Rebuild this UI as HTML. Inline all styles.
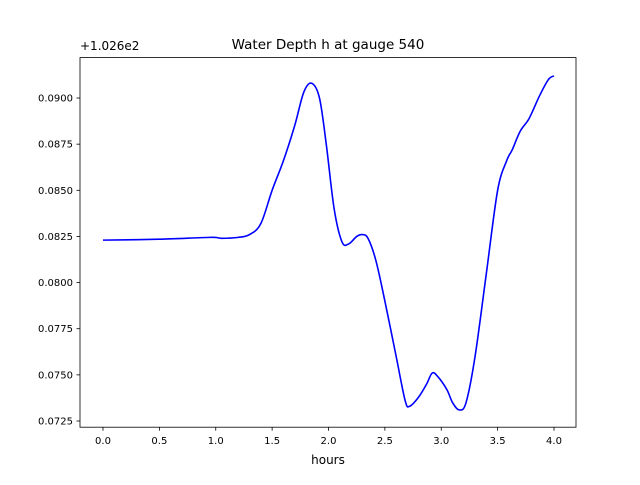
<!DOCTYPE html>
<html><head><meta charset="utf-8"><style>
body{margin:0;background:#fff}
svg{font-family:"DejaVu Sans","Liberation Sans",sans-serif}
</style></head><body>
<svg id="chart" width="640" height="480" viewBox="0 0 640 480">
<rect width="640" height="480" fill="#fff"/>
<text x="328" y="49" text-anchor="middle" font-size="13.5">Water Depth h at gauge 540</text>
<text x="80" y="50" font-size="12">+1.026e2</text>
<g id="xticks"></g>
<g id="yticks"></g>
<path id="line" fill="none" stroke="#0000ff" stroke-width="1.6"/>
<rect x="80" y="57.6" width="496" height="369.6" fill="none" stroke="#000" stroke-width="0.8"/>
<text x="328" y="464" text-anchor="middle" font-size="12">hours</text>
</svg>
<script>
const hours=[0,0.5,0.95,1.05,1.2,1.3,1.4,1.5,1.6,1.7,1.78,1.85,1.92,1.98,2.05,2.12,2.18,2.25,2.3,2.35,2.42,2.5,2.6,2.68,2.72,2.8,2.87,2.92,2.97,3.05,3.1,3.16,3.22,3.3,3.4,3.5,3.58,3.63,3.7,3.78,3.87,3.95,4.0];
const depth=[0.0823,0.08235,0.08245,0.0824,0.08245,0.0826,0.0832,0.0850,0.0866,0.0885,0.0903,0.0908,0.0900,0.0875,0.0840,0.0822,0.0821,0.0825,0.0826,0.0824,0.0812,0.0790,0.0760,0.0736,0.0733,0.0738,0.0745,0.0751,0.0749,0.0742,0.0735,0.0731,0.0735,0.0760,0.0805,0.0850,0.0866,0.0872,0.0882,0.0889,0.0901,0.0910,0.0912];
const xTicks=[0,0.5,1,1.5,2,2.5,3,3.5,4];
const xTickLabels=["0.0","0.5","1.0","1.5","2.0","2.5","3.0","3.5","4.0"];
const yTicks=[0.0725,0.075,0.0775,0.08,0.0825,0.085,0.0875,0.09];
const yTickLabels=["0.0725","0.0750","0.0775","0.0800","0.0825","0.0850","0.0875","0.0900"];
const NS="http://www.w3.org/2000/svg";
function xs(v){return 103+v*112.75;}
function ys(v){return 421-(v-0.0725)/0.0025*46.14;}
function mk(t,a,p){const e=document.createElementNS(NS,t);for(const k in a)e.setAttribute(k,a[k]);p.appendChild(e);return e;}
const gx=document.getElementById('xticks'),gy=document.getElementById('yticks');
xTicks.forEach((v,i)=>{
 const l=mk('line',{x1:xs(v),x2:xs(v),y1:427.2,y2:430.7,stroke:'#000','stroke-width':0.8},gx);
 
 
 const t=mk('text',{x:xs(v),y:444,'text-anchor':'middle','font-size':10},gx);
 t.textContent=xTickLabels[i];
 
 
});
yTicks.forEach((v,i)=>{
 const l=mk('line',{x1:76.5,x2:80,y1:ys(v),y2:ys(v),stroke:'#000','stroke-width':0.8},gy);
 
 
 const t=mk('text',{x:73,y:ys(v)+3.5,'text-anchor':'end','font-size':10},gy);
 t.textContent=yTickLabels[i];
 
 
});
const P=hours.map((h,i)=>[xs(h),ys(depth[i])]);
let d='M'+P[0][0]+','+P[0][1];
for(let i=0;i<P.length-1;i++){
 const p0=P[Math.max(0,i-1)],p1=P[i],p2=P[i+1],p3=P[Math.min(P.length-1,i+2)];
 const c1=[p1[0]+(p2[0]-p0[0])/6,p1[1]+(p2[1]-p0[1])/6];
 const c2=[p2[0]-(p3[0]-p1[0])/6,p2[1]-(p3[1]-p1[1])/6];
 d+=' C'+c1+' '+c2+' '+p2;
}
document.getElementById('line').setAttribute('d',d);
</script>
</body></html>
